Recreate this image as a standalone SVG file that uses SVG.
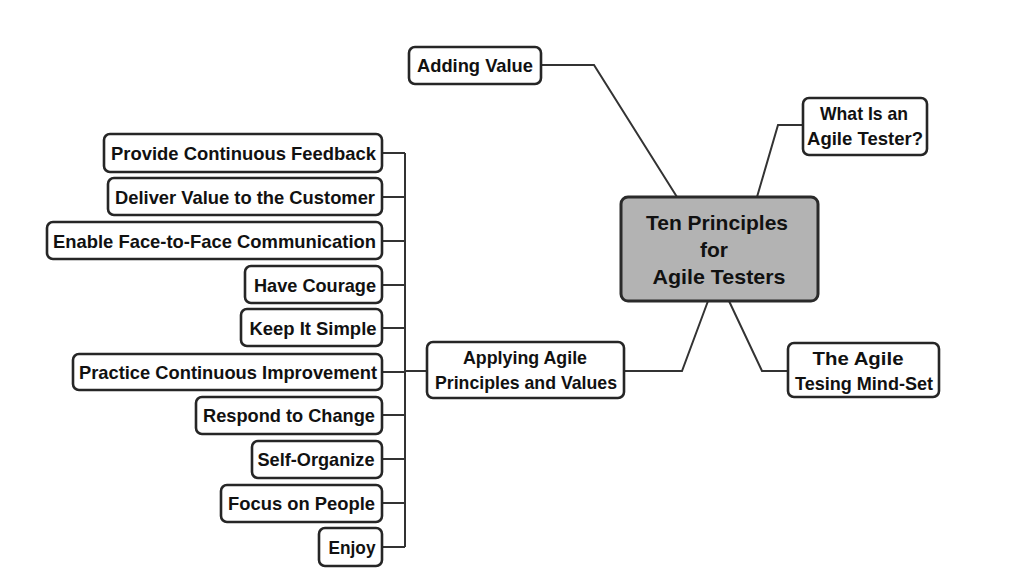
<svg xmlns="http://www.w3.org/2000/svg" width="1024" height="583" viewBox="0 0 1024 583">
<style>
.box{fill:#ffffff;stroke:#262626;stroke-width:2.6}
.main{fill:#b3b3b3;stroke:#2a2a2a;stroke-width:3}
.t{font-family:"Liberation Sans",Arial,sans-serif;font-weight:bold;font-size:19px;fill:#111;text-anchor:middle}
.tc{font-family:"Liberation Sans",Arial,sans-serif;font-weight:bold;font-size:21px;fill:#111;text-anchor:middle}
.c{fill:none;stroke:#333;stroke-width:2}
</style>
<rect width="1024" height="583" fill="#ffffff"/>
<g id="connectors">
<polyline class="c" points="541,65 594,65 677,197"/>
<polyline class="c" points="803,125 778,125 757,197"/>
<polyline class="c" points="708,301 682,371 624,371"/>
<polyline class="c" points="729,301 762,371 788,371"/>
<line class="c" x1="427" y1="371" x2="405" y2="371"/>
<line class="c" x1="405" y1="153" x2="405" y2="547"/>
<line class="c" x1="382" y1="153" x2="405" y2="153"/>
<line class="c" x1="382" y1="197" x2="405" y2="197"/>
<line class="c" x1="382" y1="241" x2="405" y2="241"/>
<line class="c" x1="382" y1="285" x2="405" y2="285"/>
<line class="c" x1="382" y1="328" x2="405" y2="328"/>
<line class="c" x1="382" y1="372" x2="405" y2="372"/>
<line class="c" x1="382" y1="415" x2="405" y2="415"/>
<line class="c" x1="382" y1="459" x2="405" y2="459"/>
<line class="c" x1="382" y1="503" x2="405" y2="503"/>
<line class="c" x1="382" y1="547" x2="405" y2="547"/>
</g>
<g id="center">
<rect class="main" x="621" y="197" width="197" height="104" rx="7"/>
<text class="tc" x="717" y="230" textLength="142" lengthAdjust="spacingAndGlyphs">Ten Principles</text>
<text class="tc" x="714" y="257">for</text>
<text class="tc" x="719" y="284" textLength="133" lengthAdjust="spacingAndGlyphs">Agile Testers</text>
</g>
<g id="adding-value">
<rect class="box" x="409" y="47" width="132" height="37" rx="6"/>
<text class="t" x="475" y="72" textLength="116" lengthAdjust="spacingAndGlyphs">Adding Value</text>
</g>
<g id="what-is">
<rect class="box" x="803" y="98" width="124" height="57" rx="6"/>
<text class="t" x="864" y="120" textLength="88" lengthAdjust="spacingAndGlyphs">What Is an</text>
<text class="t" x="865" y="145" textLength="116" lengthAdjust="spacingAndGlyphs">Agile Tester?</text>
</g>
<g id="mind-set">
<rect class="box" x="788" y="343" width="151" height="54" rx="6"/>
<text class="t" x="858" y="365" textLength="91" lengthAdjust="spacingAndGlyphs">The Agile</text>
<text class="t" x="864" y="390" textLength="138" lengthAdjust="spacingAndGlyphs">Tesing Mind-Set</text>
</g>
<g id="applying">
<rect class="box" x="427" y="342" width="197" height="56" rx="6"/>
<text class="t" x="525" y="364" textLength="124" lengthAdjust="spacingAndGlyphs">Applying Agile</text>
<text class="t" x="526" y="389" textLength="182" lengthAdjust="spacingAndGlyphs">Principles and Values</text>
</g>
<g id="p1">
<rect class="box" x="104" y="134" width="278" height="38" rx="6"/>
<text class="t" x="243.5" y="160" textLength="265" lengthAdjust="spacingAndGlyphs">Provide Continuous Feedback</text>
</g>
<g id="p2">
<rect class="box" x="108" y="178" width="274" height="37" rx="6"/>
<text class="t" x="245" y="204" textLength="260" lengthAdjust="spacingAndGlyphs">Deliver Value to the Customer</text>
</g>
<g id="p3">
<rect class="box" x="47" y="222" width="335" height="37" rx="6"/>
<text class="t" x="214.5" y="248" textLength="323" lengthAdjust="spacingAndGlyphs">Enable Face-to-Face Communication</text>
</g>
<g id="p4">
<rect class="box" x="245" y="266" width="137" height="37" rx="6"/>
<text class="t" x="315" y="292" textLength="122" lengthAdjust="spacingAndGlyphs">Have Courage</text>
</g>
<g id="p5">
<rect class="box" x="241" y="309" width="141" height="37" rx="6"/>
<text class="t" x="313" y="335" textLength="127" lengthAdjust="spacingAndGlyphs">Keep It Simple</text>
</g>
<g id="p6">
<rect class="box" x="73" y="354" width="309" height="36" rx="6"/>
<text class="t" x="228" y="379" textLength="298" lengthAdjust="spacingAndGlyphs">Practice Continuous Improvement</text>
</g>
<g id="p7">
<rect class="box" x="196" y="397" width="186" height="37" rx="6"/>
<text class="t" x="289" y="422" textLength="172" lengthAdjust="spacingAndGlyphs">Respond to Change</text>
</g>
<g id="p8">
<rect class="box" x="252" y="441" width="130" height="37" rx="6"/>
<text class="t" x="316" y="466" textLength="117" lengthAdjust="spacingAndGlyphs">Self-Organize</text>
</g>
<g id="p9">
<rect class="box" x="221" y="485" width="161" height="37" rx="6"/>
<text class="t" x="301.5" y="510" textLength="147" lengthAdjust="spacingAndGlyphs">Focus on People</text>
</g>
<g id="p10">
<rect class="box" x="319" y="528" width="63" height="38" rx="6"/>
<text class="t" x="352" y="554" textLength="47" lengthAdjust="spacingAndGlyphs">Enjoy</text>
</g>
</svg>
